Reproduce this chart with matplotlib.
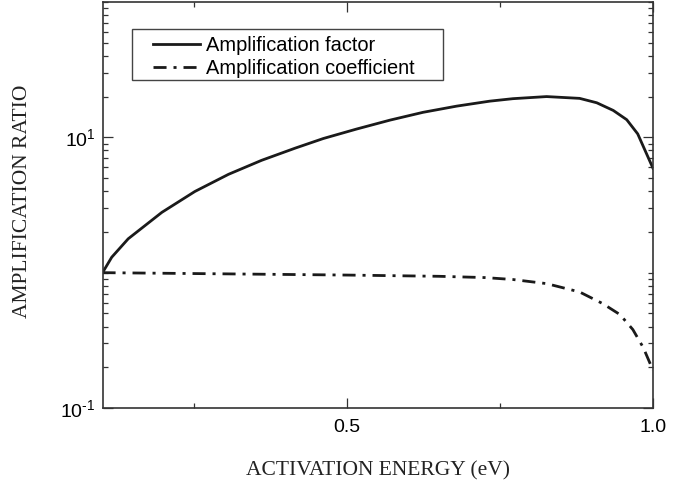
import numpy as np
import matplotlib
matplotlib.use("Agg")
import matplotlib.pyplot as plt
from matplotlib.patches import Rectangle

# Datos
energia_factor = [0.10, 0.115, 0.142, 0.197, 0.251, 0.306, 0.360, 0.415, 0.461, 0.515,
                  0.570, 0.624, 0.679, 0.733, 0.771, 0.826, 0.880, 0.908, 0.935,
                  0.957, 0.975, 1.00]
factor = [1.0, 1.30, 1.78, 2.79, 3.98, 5.33, 6.76, 8.32, 9.8, 11.5,
          13.4, 15.3, 17.0, 18.5, 19.3, 20.0, 19.4, 18.0, 15.8,
          13.5, 10.6, 5.9]

energia_coef = [0.10, 0.30, 0.50, 0.65, 0.725, 0.771, 0.826, 0.880, 0.918,
                0.946, 0.967, 0.984, 1.00]
coeficiente = [1.0, 0.98, 0.96, 0.94, 0.92, 0.89, 0.83, 0.72, 0.59,
               0.49, 0.38, 0.28, 0.19]

xticks = [0.5, 1.0]
xticks_menores = [0.25, 0.75]
yticks = [0.1, 10]
yticklabels = ["$\\mathregular{10^{\u20101}}$", r"$\mathregular{10^{1}}$"]

plt.rcParams["font.family"] = ["Liberation Sans", "DejaVu Sans"]
plt.rcParams["mathtext.fontset"] = "custom"
plt.rcParams["mathtext.rm"] = "Liberation Sans"

fig = plt.figure(figsize=(6.9, 4.82), dpi=100)
ax = fig.add_axes([0.1486, 0.1535, 0.7978, 0.8424])

color = "#1a1a1a"
ax.plot(energia_factor, factor, "-", color=color, lw=2.0,
        label="Amplification factor")
ax.plot(energia_coef, coeficiente, color=color, lw=2.0,
        linestyle=(0, (4.7, 2.5, 1.1, 2.5)),
        label="Amplification coefficient")

ax.set_yscale("log")
ax.set_xlim(0.1, 1.0)
ax.set_ylim(0.1, 100)

ax.set_xticks(xticks)
ax.set_xticklabels(["0.5", "1.0"])
ax.set_xticks(xticks_menores, minor=True)
ax.set_yticks(yticks)
ax.set_yticklabels(yticklabels)
menores = [k * 10.0 ** n for n in (-1, 0, 1) for k in range(1, 10)]
menores = [v for v in menores if v not in (0.1, 10)] + [100]
ax.set_yticks(menores, minor=True)
ax.yaxis.set_minor_formatter(matplotlib.ticker.NullFormatter())

ax.tick_params(which="both", direction="in", top=True, right=True,
               color="#333333", labelsize=14, width=0.9)
ax.tick_params(which="major", length=7, pad=5)
ax.tick_params(axis="x", which="major", pad=8)
ax.tick_params(which="minor", length=3.5)
for s in ax.spines.values():
    s.set_color("#333333")
    s.set_linewidth(1.2)

ax.set_xlabel("ACTIVATION ENERGY (eV)", family="Liberation Serif",
              fontsize=15.5, labelpad=18, color="#222222")
ax.set_ylabel("AMPLIFICATION RATIO", family="Liberation Serif",
              fontsize=15.5, color="#222222")
ax.yaxis.set_label_coords(-0.128, 0.51)

# caja de la leyenda dibujada aparte (más margen a los lados que arriba/abajo)
ax.add_patch(Rectangle((0.053, 0.808), 0.5655, 0.125, transform=ax.transAxes,
                       facecolor="white", edgecolor="#444444", lw=1.0, zorder=4))
leg = ax.legend(loc="upper left", bbox_to_anchor=(0.0917, 0.916),
                borderaxespad=0, fontsize=14.4, handlelength=2.35,
                handletextpad=0.3, labelspacing=0.22, borderpad=0,
                frameon=False)
leg.set_zorder(5)

fig.savefig("out.png", dpi=100)
